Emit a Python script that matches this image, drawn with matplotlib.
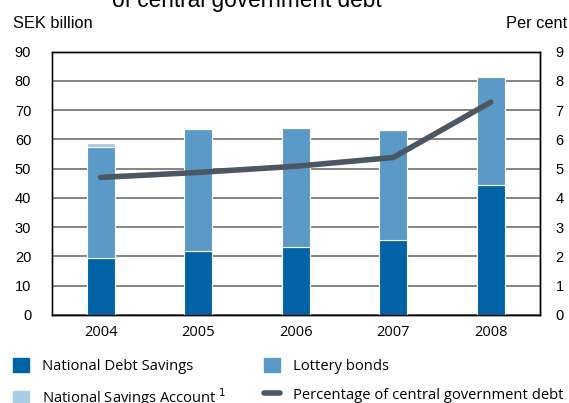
import matplotlib.pyplot as plt
import matplotlib.patches as mpatches
import matplotlib.lines as mlines
import numpy as np

plt.rcParams['font.family'] = ['Liberation Sans', 'DejaVu Sans']

years = ["2004", "2005", "2006", "2007", "2008"]
debt_savings = [19.6, 22.0, 23.3, 25.7, 44.3]
lottery_bonds = [37.9, 41.6, 40.7, 37.6, 36.9]
savings_account = [1.4, 0.0, 0.0, 0.0, 0.0]
pct_of_debt = [4.7, 4.87, 5.08, 5.38, 7.27]

c_nds = "#0063a6"
c_lot = "#5b9ac7"
c_nsa = "#a9cce4"
c_line = "#4b5762"

W, H = 569, 403
fig = plt.figure(figsize=(W / 100, H / 100), dpi=100)
ax = fig.add_axes([52 / W, 1 - 315 / H, 487.5 / W, 263.5 / H])
ax2 = ax.twinx()

x = np.arange(len(years))
w = 0.29
b1 = np.array(debt_savings)
b2 = b1 + np.array(lottery_bonds)
ax.bar(x, debt_savings, w, color=c_nds, edgecolor="white", linewidth=0.8, zorder=3)
ax.bar(x, lottery_bonds, w, bottom=b1, color=c_lot, edgecolor="white", linewidth=0.8, zorder=3)
ax.bar(x, savings_account, w, bottom=b2, color=c_nsa, edgecolor="white", linewidth=0.8, zorder=3)

ax.set_xlim(-0.5, 4.5)
ax.set_ylim(0, 90)
ax.set_yticks(np.arange(0, 91, 10))
ax.set_xticks(x)
ax.set_xticklabels(years, family=["Open Sans", "DejaVu Sans"])
ax.yaxis.grid(True, color="#707070", linewidth=1.2, zorder=0)
ax.set_axisbelow(True)
ax.tick_params(axis="y", length=0, labelsize=10.5, pad=15)
ax.tick_params(axis="x", length=0, labelsize=10.5, pad=7)

ax2.plot(x, pct_of_debt, color=c_line, linewidth=4, solid_capstyle="round", zorder=4)
ax2.set_ylim(0, 9)
ax2.set_yticks(np.arange(0, 10, 1))
ax2.tick_params(axis="y", length=0, labelsize=10.5, pad=11.5)

for a in (ax, ax2):
    for s in a.spines.values():
        s.set_linewidth(1.0)
        s.set_color("black")
ax.spines["left"].set_color("#555555")

fig.text(13 / W, 1 - 28 / H, "SEK billion", fontsize=11.8, va="baseline", ha="left")
fig.text(567 / W, 1 - 28 / H, "Per cent", fontsize=11.8, va="baseline", ha="right")
fig.text(247 / W, 1 - 7 / H, "of central government debt", fontsize=16.3, va="baseline", ha="center")

handles = [
    mpatches.Patch(color=c_nds, label="National Debt Savings"),
    mpatches.Patch(color=c_nsa, label="National Savings Account $^{1}$"),
    mpatches.Patch(color=c_lot, label="Lottery bonds"),
    mlines.Line2D([], [], color=c_line, linewidth=4, solid_capstyle="round",
                  label="Percentage of central government debt"),
]
leg = fig.legend(handles=handles, ncol=2, loc="upper left",
                 bbox_to_anchor=(13 / W, 1 - 358 / H), frameon=False,
                 prop={"family": ["Open Sans", "DejaVu Sans"], "size": 10.6},
                 handlelength=1.1, handleheight=1.1, handletextpad=0.9,
                 columnspacing=2.5, labelspacing=0.85, borderaxespad=0,
                 borderpad=0)

fig.savefig("out.png", dpi=100)
